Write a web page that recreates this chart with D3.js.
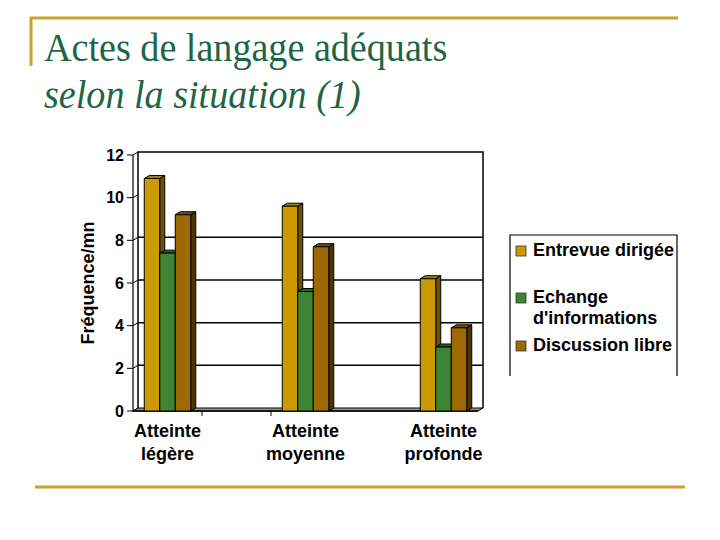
<!DOCTYPE html>
<html><head><meta charset="utf-8">
<script src="https://cdn.jsdelivr.net/npm/d3@7"></script>
<style>
html,body{margin:0;padding:0;background:#fff;}
svg{display:block;}
</style></head>
<body>
<svg id="chart" width="720" height="540"></svg>
<script>
const categories = [["Atteinte","légère"],["Atteinte","moyenne"],["Atteinte","profonde"]];
const series = ["Entrevue dirigée","Echange d'informations","Discussion libre"];
const entrevue = [10.9, 9.6, 6.2];
const echange = [7.4, 5.6, 3.0];
const discussion = [9.2, 7.7, 3.9];
const yTicks = [0,2,4,6,8,10,12];
const gridValues = [2,4,6,8];

const values = [entrevue, echange, discussion];
const front = ["#cc9900","#3d8434","#9c6a00"];
const top_ = ["#a88300","#2c6226","#7a5300"];
const side = ["#6b5300","#1f471b","#4d3400"];

const svg = d3.select("#chart");
const gold = "#c9a22a";
const green = "#1d6645";

// frame lines
svg.append("line").attr("x1",30).attr("x2",678).attr("y1",18).attr("y2",18).attr("stroke",gold).attr("stroke-width",3);
svg.append("line").attr("x1",31).attr("x2",31).attr("y1",17).attr("y2",66).attr("stroke",gold).attr("stroke-width",3);
svg.append("line").attr("x1",35).attr("x2",685).attr("y1",487).attr("y2",487).attr("stroke",gold).attr("stroke-width",3);

svg.append("text").attr("transform","translate(44,61) scale(0.93,1)").attr("font-family","Liberation Serif, Times New Roman, serif")
  .attr("font-size",41).attr("fill",green).text("Actes de langage adéquats");
svg.append("text").attr("transform","translate(44,108) scale(0.93,1)").attr("font-family","Liberation Serif, Times New Roman, serif")
  .attr("font-size",41).attr("font-style","italic").attr("fill",green).text("selon la situation (1)");

const DX = 5, DY = -3;
const x0 = 133, x1 = 478;
const y = d3.scaleLinear().domain([0,12]).range([411,155]);
const xc = d3.scalePoint().domain(d3.range(categories.length)).range([x0,x1]).padding(0.25);
const step = xc.step();
const xs = d3.scaleBand().domain(d3.range(series.length)).range([-23.25,23.25]);

const g = svg.append("g");
const font = "Liberation Sans, Arial, sans-serif";

// back wall gridlines
gridValues.forEach(v=>{
  g.append("line").attr("x1",x0+DX).attr("x2",x1+DX).attr("y1",y(v)+DY).attr("y2",y(v)+DY)
    .attr("stroke","#000").attr("stroke-width",1.5);
});
// back wall frame
g.append("path").attr("d",`M${x0+DX},${y(0)+DY}V${y(12)+DY}H${x1+DX}V${y(0)+DY}`)
  .attr("fill","none").attr("stroke","#000").attr("stroke-width",1.5);
// side wall slants
yTicks.forEach(v=>{
  g.append("line").attr("x1",x0).attr("x2",x0+DX).attr("y1",y(v)).attr("y2",y(v)+DY)
    .attr("stroke","#000").attr("stroke-width",1);
});
// floor
g.append("path").attr("d",`M${x0},${y(0)}H${x1}L${x1+DX},${y(0)+DY}H${x0+DX}Z`)
  .attr("fill","#999").attr("stroke","#000").attr("stroke-width",1);
g.append("line").attr("x1",x0).attr("x2",x1).attr("y1",y(0)).attr("y2",y(0)).attr("stroke","#000").attr("stroke-width",1.5);

// y axis (front)
g.append("line").attr("x1",x0).attr("x2",x0).attr("y1",y(0)+0.5).attr("y2",y(12)).attr("stroke","#000").attr("stroke-width",1.2);
yTicks.forEach(v=>{
  g.append("line").attr("x1",x0-6).attr("x2",x0).attr("y1",y(v)).attr("y2",y(v)).attr("stroke","#000").attr("stroke-width",1);
  g.append("text").attr("x",x0-9).attr("y",y(v)+5.5).attr("text-anchor","end")
    .attr("font-family",font).attr("font-weight","bold").attr("font-size",16).text(v);
});
g.append("text").attr("transform","translate(94,283) rotate(-90)").attr("text-anchor","middle")
  .attr("font-family",font).attr("font-weight","bold").attr("font-size",18).text("Fréquence/mn");

// x ticks
[xc(0)+step/4, xc(0)+3*step/4].forEach(px=>{
  g.append("line").attr("x1",px).attr("x2",px).attr("y1",y(0)).attr("y2",y(0)+5).attr("stroke","#000").attr("stroke-width",1);
});
categories.forEach((c,i)=>{
  c.forEach((t,j)=>{
    g.append("text").attr("x",xc(i)).attr("y",437+j*23).attr("text-anchor","middle")
      .attr("font-family",font).attr("font-weight","bold").attr("font-size",18).text(t);
  });
});

// bars
categories.forEach((c,i)=>{
  series.forEach((s,k)=>{
    const v = values[k][i];
    const bx = xc(i)+xs(k), bw = xs.bandwidth();
    const yt = y(v), yb = y(0);
    const bg = g.append("g").attr("stroke","#000").attr("stroke-width",1).attr("stroke-linejoin","round");
    bg.append("path").attr("d",`M${bx+bw},${yb}L${bx+bw+DX},${yb+DY}V${yt+DY}L${bx+bw},${yt}Z`).attr("fill",side[k]);
    bg.append("path").attr("d",`M${bx},${yt}L${bx+DX},${yt+DY}H${bx+bw+DX}L${bx+bw},${yt}Z`).attr("fill",top_[k]);
    bg.append("rect").attr("x",bx).attr("y",yt).attr("width",bw).attr("height",yb-yt).attr("fill",front[k]);
  });
});

// legend
const lg = svg.append("g");
lg.append("path").attr("d","M510,376V235H677V376").attr("fill","none").attr("stroke","#000").attr("stroke-width",1.2);
const legendLines = [["Entrevue dirigée"],["Echange","d'informations"],["Discussion libre"]];
const legendBase = [256,303,351];
legendLines.forEach((lines,k)=>{
  lg.append("rect").attr("x",516).attr("y",legendBase[k]-10).attr("width",10).attr("height",10)
    .attr("fill",front[k]).attr("stroke","#333").attr("stroke-width",0.8);
  lines.forEach((t,j)=>{
    lg.append("text").attr("x",533).attr("y",legendBase[k]+j*21)
      .attr("font-family",font).attr("font-weight","bold").attr("font-size",18).text(t);
  });
});
</script>
</body></html>
